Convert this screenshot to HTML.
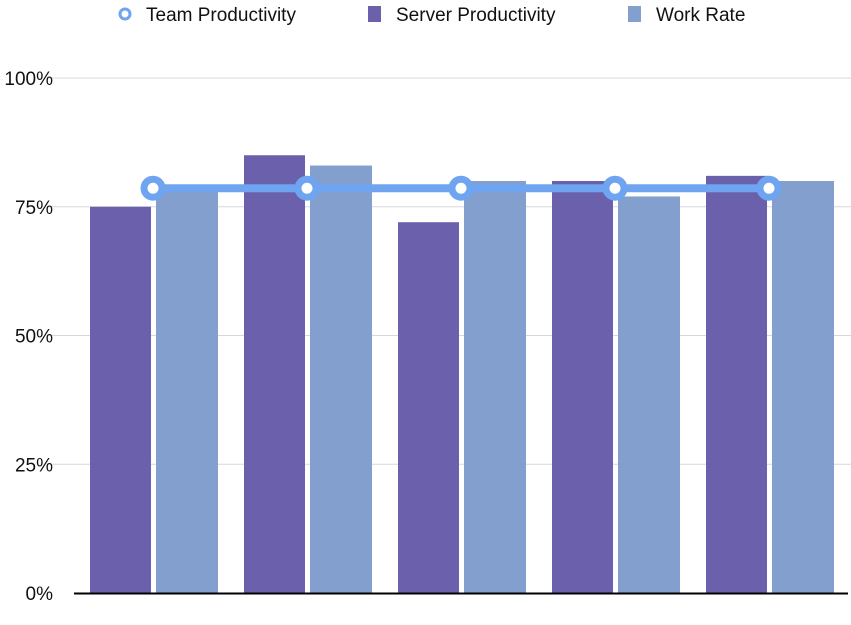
<!DOCTYPE html>
<html><head><meta charset="utf-8"><style>
body{margin:0;background:#fff;font-family:"Liberation Sans",sans-serif}
svg{display:block}
</style></head><body>
<svg id="chart" width="851" height="625">
<g id="grid"></g>
<g id="bars"></g>
<g id="line"></g>
<g id="legend">
<g>
<circle cx="125" cy="14" r="5" fill="#fff" stroke="#6ea4f0" stroke-width="3"/>
<text x="146" y="21" font-size="19" fill="#111">Team Productivity</text></g>
<g>
<rect x="368" y="6" width="13" height="16" fill="#6a60ab"/>
<text x="396" y="21" font-size="19" fill="#111">Server Productivity</text></g>
<g>
<rect x="628" y="6" width="13" height="16" fill="#829fcd"/>
<text x="656" y="21" font-size="19" fill="#111">Work Rate</text></g>
</g>
</svg>
<script>
const categories=["A","B","C","D","E"];
const serverValues=[75,85,72,80,81];
const workValues=[79,83,80,77,80];
const teamValues=[78.6,78.6,78.6,78.6,78.6];
const tickValues=[0,25,50,75,100];
const tickLabels=["0%","25%","50%","75%","100%"];
const NS="http://www.w3.org/2000/svg";
const y0=593,y100=78,x0=74,groupW=154;
const yScale=v=>y0-(y0-y100)*v/100;
const xGroup=i=>x0+16+i*groupW;
function mk(t,a,p){const e=document.createElementNS(NS,t);for(const k in a)e.setAttribute(k,a[k]);p.appendChild(e);return e;}
const grid=document.getElementById('grid');
tickValues.forEach((v,i)=>{
  const y=yScale(v);
  if(v>0){const l=mk('line',{x1:48,x2:851,y1:y,y2:y,stroke:'#d8d8d8','stroke-width':1},grid);
  
  }
  const t=mk('text',{x:53,y:y+7,'font-size':19,'text-anchor':'end',fill:'#111'},grid);
  t.textContent=tickLabels[i];
  
  
});
const bars=document.getElementById('bars');
categories.forEach((c,i)=>{
  const x=xGroup(i);
  const b1=mk('rect',{x:x,y:yScale(serverValues[i]),width:61,height:y0-yScale(serverValues[i]),fill:'#6a60ab'},bars);
  
  
  const b2=mk('rect',{x:x+66,y:yScale(workValues[i]),width:62,height:y0-yScale(workValues[i]),fill:'#829fcd'},bars);
  
  
});
const ax=mk('line',{x1:74,x2:848,y1:y0+0.5,y2:y0+0.5,stroke:'#000','stroke-width':2},bars);


const lg=document.getElementById('line');
const pts=teamValues.map((v,i)=>[xGroup(i)+63,yScale(v)]);
const pl=mk('polyline',{points:pts.map(p=>p.join(',')).join(' '),fill:'none',stroke:'#6ea4f0','stroke-width':8},lg);


pts.forEach(p=>{
  const c=mk('circle',{cx:p[0],cy:p[1],r:9,fill:'#fff',stroke:'#6ea4f0','stroke-width':7},lg);
  
  
});
</script>
</body></html>
